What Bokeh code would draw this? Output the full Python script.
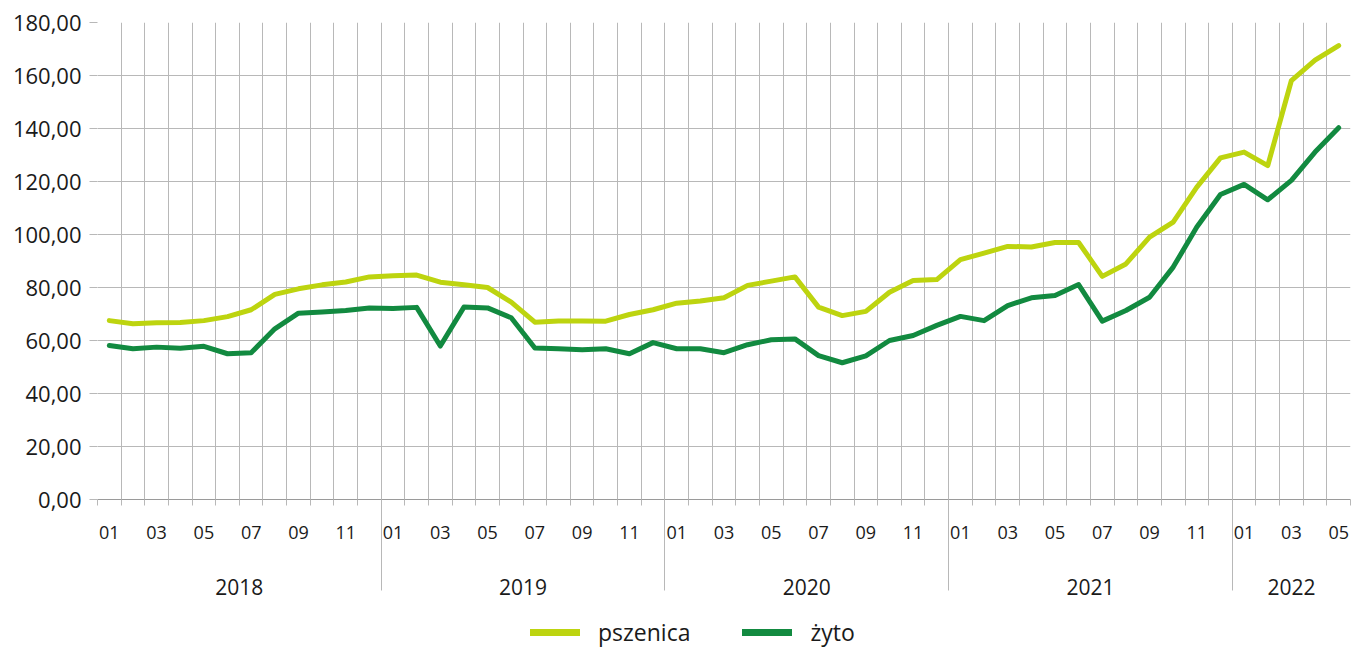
from bokeh.plotting import figure
from bokeh.models import FixedTicker, LinearAxis, Legend, LegendItem, Range1d
from bokeh.layouts import column
from bokeh.embed import file_html
from bokeh.resources import INLINE

# ---- data ----
years = ["2018", "2019", "2020", "2021", "2022"]
months_in_year = [12, 12, 12, 12, 5]
month_codes = ["01", "02", "03", "04", "05", "06", "07", "08", "09", "10", "11", "12"]

pszenica = [
    67.5, 66.3, 66.7, 66.8, 67.5, 69.0, 71.6, 77.4, 79.5, 81.0, 82.1, 84.0,
    84.4, 84.7, 82.0, 81.0, 80.0, 74.5, 66.9, 67.4, 67.4, 67.3, 69.8, 71.6,
    74.1, 74.9, 76.1, 80.8, 82.4, 84.0, 72.6, 69.4, 71.0, 78.2, 82.6, 83.0,
    90.5, 93.0, 95.5, 95.3, 97.0, 97.0, 84.2, 88.9, 99.0, 104.7, 117.9, 128.9,
    131.1, 126.0, 158.1, 165.8, 171.3,
]
zyto = [
    58.1, 56.9, 57.5, 57.1, 57.8, 55.0, 55.4, 64.4, 70.3, 70.8, 71.3, 72.3,
    72.1, 72.5, 57.9, 72.6, 72.3, 68.6, 57.2, 56.9, 56.5, 56.9, 55.0, 59.2,
    56.9, 56.9, 55.4, 58.4, 60.3, 60.6, 54.3, 51.6, 54.2, 60.0, 61.9, 65.7,
    69.1, 67.5, 73.2, 76.1, 77.0, 81.1, 67.3, 71.3, 76.3, 87.7, 102.8, 115.1,
    118.9, 113.1, 120.4, 131.1, 140.3,
]
y_ticks = [0, 20, 40, 60, 80, 100, 120, 140, 160, 180]
y_tick_labels = ["0,00", "20,00", "40,00", "60,00", "80,00", "100,00",
                 "120,00", "140,00", "160,00", "180,00"]
series_names = ["pszenica", "żyto"]
series_colors = ["#bdd40f", "#128a40"]
series_values = [pszenica, zyto]

# ---- derived positions ----
month_labels = []
for yr, cnt in zip(years, months_in_year):
    for m in range(cnt):
        month_labels.append(month_codes[m])
n = len(month_labels)
xs = list(range(n))
boundaries = [i - 0.5 for i in range(n + 1)]

year_centers = []
year_bounds = []
start = 0
for cnt in months_in_year:
    year_centers.append(start + (cnt - 1) / 2)
    if start > 0:
        year_bounds.append(start - 0.5)
    start += cnt

odd_idx = [i for i in xs if int(month_labels[i]) % 2 == 1]

FONT = "Open Sans"
TXT = "#1a1a1a"
GRID = "#b8b8b8"
W = 1354

p = figure(width=W, height=610, output_backend="svg", toolbar_location=None,
           x_range=Range1d(-0.5, n - 0.5), y_range=Range1d(0, 180),
           min_border_left=97, min_border_right=4, min_border_top=22,
           min_border_bottom=111)
p.outline_line_color = None
p.background_fill_color = "white"
p.border_fill_color = "white"

# y axis
p.yaxis.ticker = FixedTicker(ticks=y_ticks)
p.yaxis.major_label_overrides = {t: l for t, l in zip(y_ticks, y_tick_labels)}
p.yaxis.axis_line_color = None
p.yaxis.major_tick_out = 8
p.yaxis.major_tick_in = 0
p.yaxis.major_tick_line_color = GRID
p.yaxis.minor_tick_line_color = None
p.yaxis.major_label_standoff = 8
p.yaxis.major_label_text_font = FONT
p.yaxis.major_label_text_font_size = "22px"
p.yaxis.major_label_text_color = TXT
p.ygrid.grid_line_color = GRID

# month axis (main x axis): labels on odd months, small ticks on month boundaries
ax = p.xaxis[0]
ax.ticker = FixedTicker(ticks=odd_idx, minor_ticks=boundaries)
ax.major_label_overrides = {i: month_labels[i] for i in odd_idx}
ax.axis_line_color = "#9a9a9a"
ax.major_tick_line_color = None
ax.major_tick_out = 0
ax.major_tick_in = 0
ax.minor_tick_line_color = GRID
ax.minor_tick_out = 6
ax.minor_tick_in = 0
ax.major_label_standoff = 20
ax.major_label_text_font = FONT
ax.major_label_text_font_size = "18px"
ax.major_label_text_color = TXT

p.xgrid.ticker = FixedTicker(ticks=boundaries)
p.xgrid.grid_line_color = GRID

# year axis: labels centred on each year, separators as minor ticks
yr_ax = LinearAxis(ticker=FixedTicker(ticks=year_centers, minor_ticks=year_bounds),
                   major_label_overrides={c: y for c, y in zip(year_centers, years)},
                   axis_line_color=None, major_tick_line_color=None,
                   major_tick_out=0, major_tick_in=0,
                   minor_tick_line_color=GRID, minor_tick_in=42, minor_tick_out=49,
                   major_label_standoff=-12,
                   major_label_text_font=FONT, major_label_text_font_size="21px",
                   major_label_text_color=TXT)
p.add_layout(yr_ax, "below")

# series
for vals, col in zip(series_values, series_colors):
    p.line(xs, vals, line_width=5, line_color=col,
           line_join="round", line_cap="round")

# legend strip below the chart (its series lie outside this strip's ranges,
# so only the legend itself is visible)
pl = figure(width=W, height=38, output_backend="svg", toolbar_location=None,
            x_range=Range1d(-10, -9), y_range=Range1d(-10, -9),
            x_axis_location=None, y_axis_location=None,
            min_border_left=0, min_border_right=0, min_border_top=0,
            min_border_bottom=0)
pl.outline_line_color = None
pl.grid.visible = False
items = []
for nm, vals, col in zip(series_names, series_values, series_colors):
    r = pl.line(xs, vals, line_width=7, line_color=col, line_cap="round")
    items.append(LegendItem(label=nm, renderers=[r]))
legend = Legend(items=items, orientation="horizontal", location=(433, 0),
                padding=0, margin=0, spacing=52, glyph_width=50,
                label_standoff=18, border_line_color=None,
                background_fill_alpha=0,
                label_text_font=FONT, label_text_font_size="23px",
                label_text_color=TXT)
pl.add_layout(legend)

layout = column(p, pl, spacing=0)
open("out.html", "w").write(file_html(layout, INLINE))
